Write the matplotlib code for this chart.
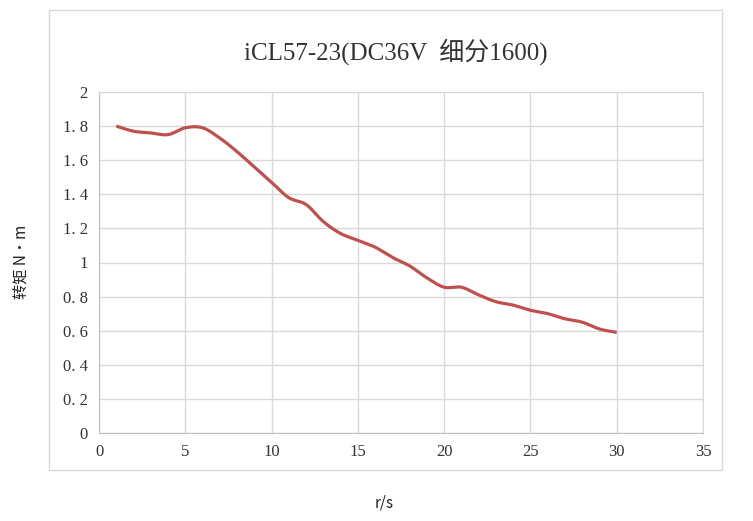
import numpy as np
import matplotlib
matplotlib.use('Agg')
import matplotlib.pyplot as plt
from matplotlib.patches import Rectangle

# 数据: 转速 r/s 与 转矩 N·m
speed = [1, 2, 3, 4, 5, 6, 7, 8, 9, 10, 11, 12, 13, 14, 15,
         16, 17, 18, 19, 20, 21, 22, 23, 24, 25, 26, 27, 28, 29, 30]
torque = [1.80, 1.77, 1.76, 1.75, 1.79, 1.79, 1.73, 1.65, 1.56, 1.47,
          1.38, 1.34, 1.24, 1.17, 1.13, 1.09, 1.03, 0.98, 0.91, 0.855,
          0.855, 0.81, 0.77, 0.75, 0.72, 0.70, 0.67, 0.65, 0.61, 0.59]
xticks = [0, 5, 10, 15, 20, 25, 30, 35]
yticks = [0, 0.2, 0.4, 0.6, 0.8, 1, 1.2, 1.4, 1.6, 1.8, 2]
ytick_labels = ['0', '0. 2', '0. 4', '0. 6', '0. 8', '1', '1. 2', '1. 4', '1. 6', '1. 8', '2']
title = 'iCL57-23(DC36V  细分1600)'


# 平滑曲线 (类似 Excel 的平滑线)
def smooth(x, y, n=20):
    x = np.asarray(x, float)
    y = np.asarray(y, float)
    px = np.concatenate([[2 * x[0] - x[1]], x, [2 * x[-1] - x[-2]]])
    py = np.concatenate([[2 * y[0] - y[1]], y, [2 * y[-1] - y[-2]]])
    xs, ys = [], []
    t = np.linspace(0, 1, n, endpoint=False)
    for i in range(1, len(px) - 2):
        for arr, out in ((px, xs), (py, ys)):
            p0, p1, p2, p3 = arr[i - 1], arr[i], arr[i + 1], arr[i + 2]
            out.extend(0.5 * (2 * p1 + (-p0 + p2) * t
                              + (2 * p0 - 5 * p1 + 4 * p2 - p3) * t ** 2
                              + (-p0 + 3 * p1 - 3 * p2 + p3) * t ** 3))
    xs.append(x[-1])
    ys.append(y[-1])
    return np.array(xs), np.array(ys)


plt.rcParams['font.family'] = ['Liberation Serif', 'Noto Sans CJK SC']

fig = plt.figure(figsize=(7.53, 5.21), dpi=100)
fig.patches.append(Rectangle((49 / 753, 1 - 470 / 521), 673 / 753, 460 / 521,
                             transform=fig.transFigure, fill=False,
                             edgecolor='#d9d9d9', linewidth=1))

ax = fig.add_axes([99 / 753, 88 / 521, 604 / 753, 341 / 521])
sx, sy = smooth(speed, torque)
ax.plot(sx, sy, color='#c0504d', linewidth=2.3, solid_capstyle='butt')

ax.set_xlim(0, 35)
ax.set_ylim(0, 2)
ax.set_xticks(xticks)
ax.set_yticks(yticks)
ax.set_yticklabels(ytick_labels)
ax.grid(True, color='#d9d9d9', linewidth=1)
ax.set_axisbelow(True)
ax.tick_params(length=0, labelsize=12, colors='#333333', pad=8)
for s in ['top', 'right']:
    ax.spines[s].set_color('#d9d9d9')
for s in ['left', 'bottom']:
    ax.spines[s].set_color('#bfbfbf')

fig.text(396 / 753, 1 - 52 / 521, title, ha='center', va='center',
         fontsize=18, color='#333333')
fig.text(22 / 753, 1 - 262 / 521, '转矩 N•m', rotation=90, ha='center', va='center',
         fontsize=11, family=['Noto Sans CJK SC', 'DejaVu Sans'], color='#222222')
fig.text(384 / 753, 1 - 503 / 521, 'r/s', ha='center', va='center',
         fontsize=11, family=['Noto Sans CJK SC', 'DejaVu Sans'], color='#222222')

fig.savefig('out.png', dpi=100)
